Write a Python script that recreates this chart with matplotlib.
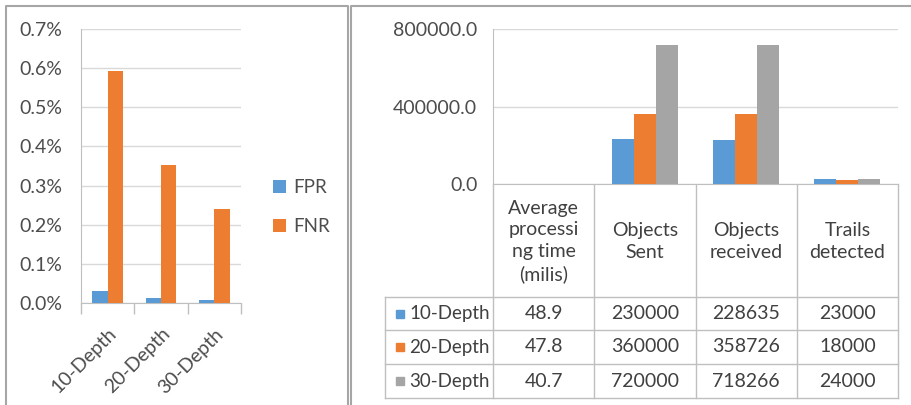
import numpy as np
import matplotlib
matplotlib.use("Agg")
import matplotlib.pyplot as plt
from matplotlib.patches import Rectangle

plt.rcParams['font.family'] = ['Lato', 'DejaVu Sans']

# ---- data ----
depths = ["10-Depth", "20-Depth", "30-Depth"]
rate_names = ["FPR", "FNR"]
fpr = [0.00030, 0.00014, 0.00008]
fnr = [0.00593, 0.00352, 0.00240]

metrics = ["Average\nprocessi\nng time\n(milis)", "Objects\nSent", "Objects\nreceived", "Trails\ndetected"]
depth10 = [48.9, 230000, 228635, 23000]
depth20 = [47.8, 360000, 358726, 18000]
depth30 = [40.7, 720000, 718266, 24000]
cell_text = [["48.9", "230000", "228635", "23000"],
             ["47.8", "360000", "358726", "18000"],
             ["40.7", "720000", "718266", "24000"]]

colors = ["#5B9BD5", "#ED7D31", "#A5A5A5"]
grid_c = "#D9D9D9"
line_c = "#BFBFBF"
txt_c = "#404040"
tick_c = "#4D4D4D"

W, H = 911, 405
fig = plt.figure(figsize=(W / 100, H / 100), dpi=100)


def px_axes(x0, y0, x1, y1):
    return fig.add_axes([x0 / W, 1 - y1 / H, (x1 - x0) / W, (y1 - y0) / H])


# ---- left chart ----
ax1 = px_axes(81, 29, 241, 303)
x = np.arange(len(depths))
bw = 0.29
ax1.bar(x - bw / 2, fpr, bw, color=colors[0], label=rate_names[0], zorder=3)
ax1.bar(x + bw / 2, fnr, bw, color=colors[1], label=rate_names[1], zorder=3)
ax1.set_xlim(-0.5, 2.5)
ax1.set_ylim(0, 0.007)
ax1.set_yticks(np.arange(0, 0.0071, 0.001))
ax1.set_yticklabels([f"{v*100:.1f}%" for v in np.arange(0, 0.0071, 0.001)])
ax1.yaxis.grid(True, color=grid_c, lw=1, zorder=0)
ax1.tick_params(axis='y', length=0, pad=13.5, labelsize=14, labelcolor=tick_c)
ax1.set_xticks(x)
ax1.set_xticklabels(depths, rotation=45, ha='right', rotation_mode='anchor')
ax1.tick_params(axis='x', length=0, pad=16, labelsize=14, labelcolor=tick_c)
ax1.set_xticks(np.arange(-0.5, 2.6, 1), minor=True)
ax1.tick_params(axis='x', which='minor', length=8, color=line_c, width=1)
for s in ["top", "right"]:
    ax1.spines[s].set_visible(False)
for s in ["left", "bottom"]:
    ax1.spines[s].set_color(line_c)
ax1.legend(loc='center left', bbox_to_anchor=(273 / W, 1 - 207 / H), bbox_transform=fig.transFigure,
           frameon=False, borderpad=0, borderaxespad=0, handlelength=0.7, handleheight=0.7,
           handletextpad=0.4, labelspacing=1.2, fontsize=13.5, labelcolor=tick_c)

# ---- right chart ----
ax2 = px_axes(493.3, 29.3, 898, 183.7)
xm = np.arange(len(metrics))
bw2 = 0.218
for i, vals in enumerate([depth10, depth20, depth30]):
    ax2.bar(xm + (i - 1) * bw2, vals, bw2, color=colors[i], zorder=3)
ax2.set_xlim(-0.5, 3.5)
ax2.set_ylim(0, 800000)
ax2.set_yticks([0, 400000, 800000])
ax2.set_yticklabels([f"{v:.1f}" for v in [0, 400000, 800000]])
ax2.yaxis.grid(True, color=grid_c, lw=1, zorder=0)
ax2.tick_params(axis='y', length=0, pad=11.5, labelsize=14, labelcolor=tick_c)
ax2.set_xticks([])
for s in ["top", "right"]:
    ax2.spines[s].set_visible(False)
for s in ["left", "bottom"]:
    ax2.spines[s].set_color(line_c)

# ---- data table and frames (figure pixel overlay) ----
ov = fig.add_axes([0, 0, 1, 1], zorder=-1)
ov.set_xlim(0, W)
ov.set_ylim(H, 0)
ov.axis('off')

col_edges = [385, 493.3, 594.3, 695.7, 796.7, 898]
row_edges = [183.7, 297.3, 330, 364, 398.3]

# header column separators
for xe in col_edges[1:]:
    ov.plot([xe, xe], [row_edges[0], row_edges[-1]], color=line_c, lw=1)
ov.plot([col_edges[0], col_edges[0]], [row_edges[1], row_edges[-1]], color=line_c, lw=1)
for ye in row_edges[1:]:
    ov.plot([col_edges[0], col_edges[-1]], [ye, ye], color=line_c, lw=1)

for j, m in enumerate(metrics):
    cx = (col_edges[j + 1] + col_edges[j + 2]) / 2
    ov.text(cx, (row_edges[0] + row_edges[1]) / 2 + 1, m, ha='center', va='center',
            fontsize=14, color=txt_c, linespacing=1.35)

for r, name in enumerate(depths):
    cy = (row_edges[r + 1] + row_edges[r + 2]) / 2
    ov.add_patch(Rectangle((396, cy - 4), 8, 8, color=colors[r]))
    ov.text(409, cy, name, ha='left', va='center', fontsize=13.5, color=txt_c)
    for j, t in enumerate(cell_text[r]):
        cx = (col_edges[j + 1] + col_edges[j + 2]) / 2
        ov.text(cx, cy, t, ha='center', va='center', fontsize=14, color=txt_c)

# panel frames
frame_c = "#A6A6A6"
ov.plot([6, 6, 347.5, 347.5], [H, 5.5, 5.5, H], color=frame_c, lw=1.5)
ov.plot([351, 351, W], [H, 5.5, 5.5], color=frame_c, lw=1.5)

fig.savefig("out.png", dpi=100)
